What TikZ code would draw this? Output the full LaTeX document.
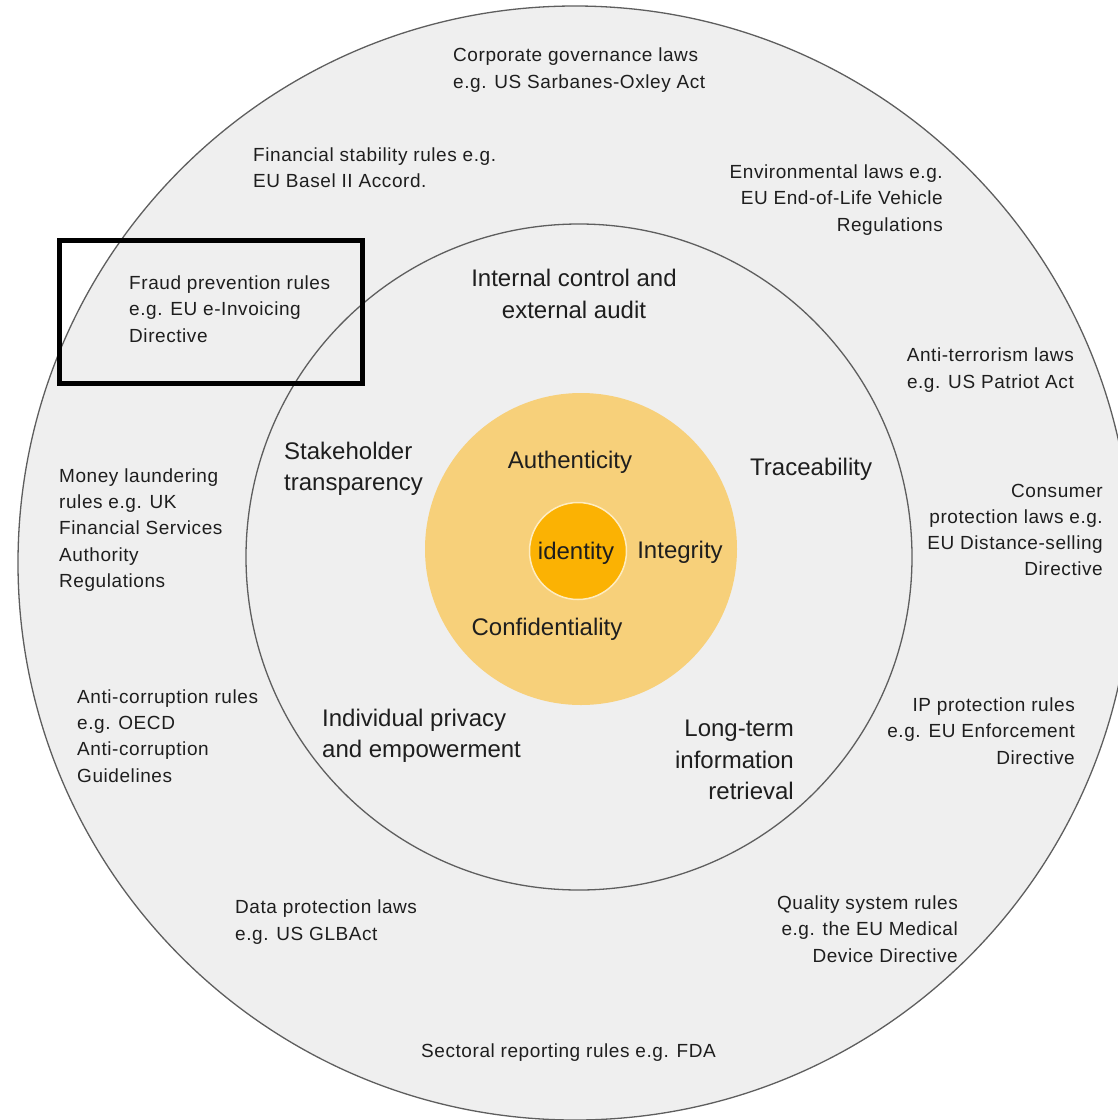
\documentclass[tikz,border=0pt]{standalone}
\usepackage{fontspec}
\setmainfont{Liberation Sans}
\newfontfamily\outerfont[LetterSpace=3]{Liberation Sans}
\definecolor{ringgray}{HTML}{EFEFEF}
\definecolor{ringline}{HTML}{5E5E5E}
\definecolor{coreyellow}{HTML}{F7D07A}
\definecolor{coreorange}{HTML}{FBB203}
\definecolor{txt}{HTML}{1E1E1E}
\tikzset{
  ring/.style={circle, draw=ringline, line width=1.3pt, fill=ringgray, inner sep=0pt},
  outerlab/.style={inner sep=0pt, text=txt, font=\outerfont\fontsize{19}{26.3}\selectfont},
  midlab/.style={inner sep=0pt, text=txt, font=\fontsize{24}{31.5}\selectfont},
  corelab/.style={inner sep=0pt, text=txt, font=\fontsize{24}{31}\selectfont},
  hilite/.style={draw=black, line width=5pt},
}
\begin{document}
\begin{tikzpicture}[x=1pt,y=-1pt]
\useasboundingbox (0,0) rectangle (1118,1120);
\clip (0,0) rectangle (1118,1120);
% rings
\node[ring, minimum size=1114pt] (outer) at (575,563) {};
\node[ring, minimum size=666pt] (middle) at (579,557) {};
\node[circle, fill=coreyellow, minimum size=312pt, inner sep=0pt] (core) at (581,549) {};
\node[circle, fill=coreorange, draw=white!75!coreorange, line width=1.5pt, minimum size=97pt, inner sep=0pt] (idc) at (578,551) {};
% highlight box
\node[hilite, minimum width=303pt, minimum height=143pt, inner sep=0pt] (box) at (211,312) {};
% core labels
\node[corelab] (ident) at (576,553) {identity};
\node[corelab] (auth) at (570,462) {Authenticity};
\node[corelab] (integ) at (680,552) {Integrity};
\node[corelab] (conf) at (547,629) {Confidentiality};
% middle ring labels
\node[midlab, align=center] (audit) at (574,294) {Internal control and\\external audit};
\node[midlab, align=left, anchor=west] (stake) at (284,469) {Stakeholder\\transparency};
\node[midlab, anchor=west] (trace) at (750,469) {Traceability};
\node[midlab, align=left, anchor=west] (priv) at (322,736) {Individual privacy\\and empowerment};
\node[midlab, align=right, anchor=east] (longt) at (794,760) {Long-term\\information\\retrieval};
% outer ring labels
\node[outerlab, align=left, anchor=west] (corp) at (453,70) {Corporate governance laws\\e.g. US Sarbanes-Oxley Act};
\node[outerlab, align=left, anchor=west] (fin) at (253,168) {Financial stability rules e.g.\\EU Basel II Accord.};
\node[outerlab, align=right, anchor=east] (env) at (943,200) {Environmental laws e.g.\\EU End-of-Life Vehicle\\Regulations};
\node[outerlab, align=left, anchor=west] (fraud) at (129,309) {Fraud prevention rules\\e.g. EU e-Invoicing\\Directive};
\node[outerlab, align=right, anchor=east] (terr) at (1074,370) {Anti-terrorism laws\\e.g. US Patriot Act};
\node[outerlab, align=left, anchor=west] (money) at (59,530) {Money laundering\\rules e.g. UK\\Financial Services\\Authority\\Regulations};
\node[outerlab, align=right, anchor=east] (cons) at (1103,530) {Consumer\\protection laws e.g.\\EU Distance-selling\\Directive};
\node[outerlab, align=left, anchor=west] (corr) at (77,736) {Anti-corruption rules\\e.g. OECD\\Anti-corruption\\Guidelines};
\node[outerlab, align=right, anchor=east] (ip) at (1075,731) {IP protection rules\\e.g. EU Enforcement\\Directive};
\node[outerlab, align=left, anchor=west] (data) at (235,922) {Data protection laws\\e.g. US GLBAct};
\node[outerlab, align=right, anchor=east] (qual) at (958,929) {Quality system rules\\e.g. the EU Medical\\Device Directive};
\node[outerlab, anchor=west] (sect) at (421,1053) {Sectoral reporting rules e.g. FDA};
\end{tikzpicture}
\end{document}
